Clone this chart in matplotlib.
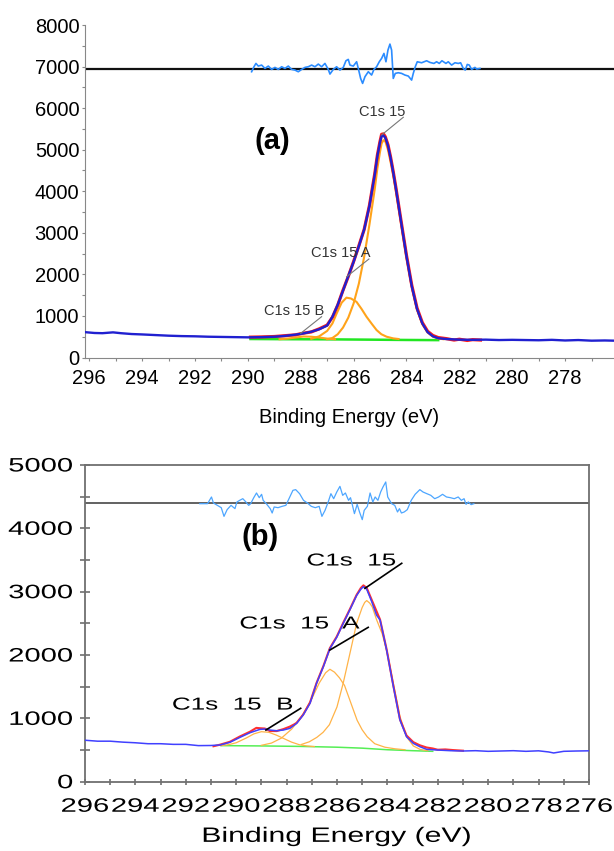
import numpy as np
import matplotlib
matplotlib.use("Agg")
import matplotlib.pyplot as plt
import matplotlib.patheffects as pe
from matplotlib.transforms import Affine2D
from matplotlib.ticker import MultipleLocator

plt.rcParams['font.family'] = ['Liberation Sans', 'DejaVu Sans']

# ---------------- panel (a) ----------------
be_a = [296.16, 295.8, 295.5, 295.1, 294.8, 294.4, 294.0, 293.5, 293.0, 292.5,
        292.0, 291.5, 291.0, 290.5, 290.0, 289.5, 289.0, 288.6, 288.2, 287.9,
        287.6, 287.3, 287.0, 286.8, 286.6, 286.4, 286.2, 286.0, 285.8, 285.6,
        285.4, 285.2, 285.1, 285.0, 284.94, 284.87, 284.8, 284.7, 284.6, 284.5,
        284.4, 284.2, 284.0, 283.8, 283.6, 283.4, 283.2, 283.0, 282.8, 282.5,
        282.0, 281.5, 281.0, 280.5, 280.0, 279.5, 279.0, 278.5, 278.0, 277.5,
        277.0, 276.5, 276.15]
env_a = [610, 590, 585, 605, 585, 565, 555, 540, 525, 515,
         510, 500, 495, 490, 485, 490, 500, 520, 550, 580,
         620, 680, 770, 980, 1270, 1610, 1960, 2300, 2680, 3080,
         3650, 4400, 4850, 5180, 5330, 5340, 5290, 5100, 4800, 4450,
         4070, 3250, 2440, 1720, 1170, 820, 610, 510, 465, 445,
         430, 425, 430, 420, 425, 420, 415, 425, 410, 420,
         405, 410, 405]

be_red_a = [289.9, 289.5, 289.0, 288.6, 288.2, 287.9, 287.6, 287.3, 287.0, 286.8,
            286.6, 286.4, 286.2, 286.0, 285.8, 285.6, 285.4, 285.2, 285.1, 285.0,
            284.94, 284.87, 284.8, 284.7, 284.6, 284.5, 284.4, 284.2, 284.0, 283.8,
            283.6, 283.4, 283.2, 283.0, 282.8, 282.5, 282.2, 282.0, 281.7, 281.5,
            281.2]
red_a = [490, 495, 505, 525, 545, 585, 615, 690, 780, 970,
         1260, 1620, 1950, 2310, 2690, 3080, 3660, 4420, 4870, 5200,
         5370, 5380, 5310, 5120, 4820, 4470, 4090, 3270, 2460, 1740,
         1190, 840, 630, 530, 480, 455, 420, 440, 410, 430,
         420]

be_main_a = [287.0, 286.8, 286.6, 286.4, 286.2, 286.0, 285.8, 285.6, 285.4, 285.2,
             285.1, 285.0, 284.94, 284.87, 284.8, 284.7, 284.6, 284.5, 284.4, 284.2,
             284.0, 283.8, 283.6, 283.4, 283.2, 283.0, 282.8, 282.6]
main_a = [440, 470, 560, 720, 960, 1300, 1780, 2420, 3200, 4050,
          4550, 4950, 5150, 5230, 5200, 5000, 4700, 4380, 4000, 3200,
          2400, 1700, 1150, 800, 600, 500, 455, 440]

be_A_a = [287.6, 287.3, 287.0, 286.8, 286.64, 286.45, 286.27, 286.1, 285.89, 285.7,
          285.51, 285.3, 285.13, 284.95, 284.75, 284.5, 284.3]
A_a = [450, 510, 640, 820, 1060, 1320, 1440, 1420, 1340, 1170,
       980, 800, 660, 560, 500, 460, 445]

be_B_a = [288.8, 288.5, 288.2, 287.9, 287.6, 287.3, 287.0, 286.7]
B_a = [440, 455, 480, 505, 500, 480, 455, 440]

be_bg_a = [289.9, 288.5, 287.0, 285.5, 284.0, 282.8]
bg_a = [445, 440, 437, 430, 422, 418]

resid_zero_a = 6940
res_be_a = [289.857, 289.768, 289.693, 289.604, 289.478, 289.352, 289.226, 289.100, 288.974, 288.848,
            288.722, 288.596, 288.470, 288.344, 288.218, 288.092, 287.965, 287.839, 287.713, 287.587,
            287.461, 287.335, 287.209, 287.083, 286.957, 286.894, 286.768, 286.642, 286.516, 286.390,
            286.289, 286.201, 286.138, 286.012, 285.885, 285.822, 285.734, 285.659, 285.570, 285.444,
            285.318, 285.230, 285.129, 285.028, 284.940, 284.852, 284.776, 284.700, 284.625, 284.562,
            284.499, 284.423, 284.310, 284.184, 284.057, 283.931, 283.805, 283.742, 283.667, 283.591,
            283.427, 283.238, 283.112, 282.961, 282.860, 282.759, 282.658, 282.507, 282.419, 282.292,
            282.166, 282.040, 281.952, 281.851, 281.776, 281.700, 281.624, 281.536, 281.410, 281.347,
            281.221]
res_a = [-64, 56, 136, 72, 96, 16, 72, -8, 40, -8,
         56, 16, 72, -8, -24, -64, -8, 40, 56, 96,
         56, 120, 56, 136, -8, -120, -8, 56, -24, 40,
         200, 233, 96, 72, 176, 16, -225, -345, -184, -64,
         -144, -8, 56, 176, 257, 377, 176, 457, 601, 457,
         -225, -104, -88, -104, -144, -168, -265, -104, 56, 176,
         152, 200, 160, 136, 176, 136, 200, 136, 176, 96,
         152, 136, 152, 16, -24, 112, 96, -8, 40, 0,
         16]

xticks_a = [296, 294, 292, 290, 288, 286, 284, 282, 280, 278]
yticks_a = [0, 1000, 2000, 3000, 4000, 5000, 6000, 7000, 8000]
labels_a = ['C1s 15', 'C1s 15 A', 'C1s 15 B']
label_pos_a = [(284.93, 5907), (286.48, 2526), (288.26, 1119)]
leaders_a = [(284.12, 5780, 284.94, 5354), (285.42, 2370, 286.26, 1944), (287.21, 982, 288.0, 582)]

# ---------------- panel (b) ----------------
be_b = [296.0, 295.5, 295.0, 294.5, 294.0, 293.5, 293.0, 292.5, 292.0, 291.5,
        291.0, 290.64, 290.25, 289.85, 289.45, 289.06, 288.86, 288.66, 288.39, 288.13,
        287.87, 287.6, 287.34, 287.07, 286.81, 286.54, 286.28, 286.01, 285.75, 285.48,
        285.22, 285.05, 284.95, 284.82, 284.62, 284.43, 284.29, 284.16, 284.03, 283.76,
        283.5, 283.24, 282.97, 282.71, 282.44, 282.0, 281.5, 281.0, 280.5, 280.0,
        279.5, 279.0, 278.5, 278.0, 277.6, 277.4, 277.0, 276.5, 276.0]
env_b = [655, 640, 640, 625, 615, 600, 600, 590, 590, 570,
         572, 580, 622, 700, 774, 826, 832, 816, 805, 816,
         842, 921, 1053, 1237, 1553, 1816, 2100, 2280, 2500, 2720,
         2940, 3040, 3079, 3040, 2842, 2630, 2553, 2320, 2079, 1500,
         974, 711, 605, 553, 511, 500, 490, 485, 490, 480,
         485, 490, 480, 488, 470, 454, 480, 485, 488]

be_red_b = [290.9, 290.64, 290.25, 289.85, 289.45, 289.2, 289.06, 288.86, 288.66, 288.39,
            288.13, 287.87, 287.7, 287.6, 287.34, 287.07, 286.81, 286.54, 286.28, 286.01,
            285.75, 285.48, 285.22, 285.05, 284.95, 284.82, 284.62, 284.45, 284.29, 284.03,
            283.76, 283.5, 283.24, 282.97, 282.71, 282.44, 282.2, 282.0, 281.7, 281.4,
            281.0]
red_b = [560, 585, 630, 715, 790, 850, 845, 840, 800, 800,
         830, 870, 905, 930, 1060, 1250, 1560, 1825, 2110, 2290,
         2510, 2730, 2950, 3060, 3100, 3060, 2870, 2710, 2560, 2090,
         1510, 985, 730, 625, 575, 540, 525, 505, 510, 500,
         490]

be_main_b = [287.4, 287.1, 286.8, 286.55, 286.3, 286.0, 285.75, 285.5, 285.22, 285.0,
             284.9, 284.82, 284.7, 284.6, 284.43, 284.2, 284.0, 283.76, 283.5, 283.24,
             282.97, 282.7, 282.4]
main_b = [590, 630, 700, 780, 900, 1180, 1560, 2000, 2500, 2750,
          2830, 2860, 2820, 2760, 2560, 2330, 2030, 1550, 1030, 710,
          565, 510, 490]

be_A_b = [289.0, 288.6, 288.2, 287.8, 287.4, 287.0, 286.7, 286.45, 286.28, 286.1,
          285.9, 285.7, 285.5, 285.2, 285.0, 284.8, 284.5, 284.1, 283.7, 283.3]
A_b = [575, 610, 690, 830, 1030, 1310, 1560, 1720, 1775, 1730,
       1640, 1520, 1300, 970, 820, 710, 600, 545, 520, 505]

be_B_b = [290.6, 290.3, 290.0, 289.6, 289.3, 289.0, 288.7, 288.4, 288.1, 287.8,
          287.5, 287.2, 286.9]
B_b = [570, 585, 615, 690, 755, 790, 780, 735, 680, 625,
       585, 565, 555]

be_bg_b = [290.6, 289.0, 287.5, 286.0, 285.0, 284.0, 283.0, 282.2]
bg_b = [570, 565, 558, 545, 530, 505, 490, 480]

resid_zero_b = 4400
res_be_b = [291.446, 291.136, 290.980, 290.902, 290.747, 290.592, 290.483, 290.359, 290.203, 290.048,
            289.970, 289.861, 289.737, 289.613, 289.504, 289.426, 289.302, 289.193, 289.084, 288.991,
            288.929, 288.804, 288.649, 288.571, 288.493, 288.338, 288.182, 288.027, 287.872, 287.747,
            287.638, 287.483, 287.328, 287.172, 287.017, 286.861, 286.706, 286.597, 286.473, 286.348,
            286.240, 286.131, 286.007, 285.882, 285.773, 285.665, 285.540, 285.463, 285.385, 285.307,
            285.198, 285.105, 284.996, 284.919, 284.794, 284.686, 284.577, 284.484, 284.375, 284.266,
            284.173, 284.064, 283.986, 283.908, 283.831, 283.706, 283.597, 283.520, 283.442, 283.333,
            283.209, 283.053, 282.898, 282.711, 282.587, 282.432, 282.276, 282.121, 281.966, 281.810,
            281.655, 281.499, 281.344, 281.189, 281.064, 280.955, 280.878, 280.785, 280.676, 280.567]
res_b = [-11, -11, 95, 0, -37, -74, -211, -105, -37, -89,
         16, 42, 68, 16, -37, -11, 84, 158, 84, 137,
         42, -11, -89, -158, -63, -74, -53, -37, 95, 200,
         211, 147, 42, 0, -53, -74, -53, -211, -116, 16,
         147, 68, 174, 263, 121, 158, 42, 84, -37, -168,
         -21, -142, -263, -116, -53, 158, 16, 95, 42, 174,
         253, 332, 95, 42, -11, -37, -142, -89, -158, -142,
         -105, 42, 137, 211, 174, 147, 121, 68, 95, 137,
         95, 84, 68, 95, 42, 68, -21, 16, -26, -11]

xticks_b = [296, 294, 292, 290, 288, 286, 284, 282, 280, 278, 276]
yticks_b = [0, 1000, 2000, 3000, 4000, 5000]
labels_b = ['C1s  15', 'C1s  15  A', 'C1s  15  B']
label_pos_b = [(285.42, 3484), (287.47, 2490), (290.13, 1210)]
leaders_b = [(283.43, 3448, 284.89, 3053), (284.76, 2437, 286.28, 2079), (287.44, 1159, 288.82, 816)]


class Stretch(pe.AbstractPathEffect):
    """widen text sideways - the lower panel was pasted in stretched"""
    def __init__(self, sx, anchor="center"):
        super().__init__()
        self.sx = sx
        self.anchor = anchor

    def draw_path(self, renderer, gc, tpath, affine, rgbFace=None):
        ext = tpath.get_extents(affine)
        x0 = ext.x1 if self.anchor == "right" else (ext.x0 + ext.x1) / 2
        aff = affine + Affine2D().translate(-x0, 0).scale(self.sx, 1).translate(x0, 0)
        renderer.draw_path(gc, tpath, aff, rgbFace)


fig = plt.figure(figsize=(6.14, 8.51), dpi=100)

# ---- (a)
ax1 = fig.add_axes([0.1384, 0.5799, 0.8616, 0.3907])
ax1.plot(be_bg_a, bg_a, color='#22e622', lw=1.8, zorder=1)
ax1.plot(be_main_a, main_a, color='#ffa31a', lw=1.5, zorder=2)
ax1.plot(be_A_a, A_a, color='#ffa31a', lw=1.5, zorder=2)
ax1.plot(be_B_a, B_a, color='#ffa31a', lw=1.5, zorder=2)
ax1.plot(be_red_a, red_a, color='#ff1a1a', lw=2.3, zorder=2.5)
ax1.plot(be_a, env_a, color='#2020d0', lw=1.7, zorder=3)
ax1.axhline(resid_zero_a, color='#111111', lw=1.6, zorder=2)
ax1.plot(res_be_a, np.array(res_a) + resid_zero_a, color='#2b8cff', lw=1.2, zorder=3)

for lab, (x, y) in zip(labels_a, label_pos_a):
    ax1.text(x, y, lab, fontsize=10.5, color='#333333', ha='center', va='center')
for x0, y0, x1, y1 in leaders_a:
    ax1.plot([x0, x1], [y0, y1], color='#777777', lw=0.8, zorder=4)
ax1.text(289.09, 5209, '(a)', fontsize=21, fontweight='bold', ha='center', va='center')

ax1.set_xlim(296.16, 276.15)
ax1.set_ylim(0, 8000)
ax1.set_xticks(xticks_a)
ax1.set_yticks(yticks_a)
ax1.xaxis.set_minor_locator(MultipleLocator(1))
ax1.yaxis.set_minor_locator(MultipleLocator(500))
for s in ['top', 'right']:
    ax1.spines[s].set_visible(False)
for s in ['left', 'bottom']:
    ax1.spines[s].set_color('#888888')
ax1.tick_params(which='both', direction='out', length=2.5, width=0.8, color='#888888')
ax1.tick_params(axis='x', labelsize=14.5, pad=5.5)
ax1.tick_params(axis='y', labelsize=14.5, pad=1.6)
ax1.set_xlabel('Binding Energy (eV)', fontsize=14.5, labelpad=15)

# ---- (b)
ax2 = fig.add_axes([0.1384, 0.0814, 0.8208, 0.3722])
ax2.plot(be_bg_b, bg_b, color='#55ee55', lw=1.1, zorder=1)
ax2.plot(be_main_b, main_b, color='#ffb347', lw=0.9, zorder=2)
ax2.plot(be_A_b, A_b, color='#ffb347', lw=0.9, zorder=2)
ax2.plot(be_B_b, B_b, color='#ffb347', lw=0.9, zorder=2)
ax2.plot(be_red_b, red_b, color='#ff3030', lw=1.5, zorder=2.5)
ax2.plot(be_b, env_b, color='#4040ff', lw=1.1, zorder=3)
ax2.axhline(resid_zero_b, color='#555555', lw=1.3, zorder=2)
ax2.plot(res_be_b, np.array(res_b) + resid_zero_b, color='#4da6ff', lw=0.9, zorder=3)

for lab, (x, y) in zip(labels_b, label_pos_b):
    ax2.text(x, y, lab, fontsize=12.5, color='black', ha='center', va='center',
             path_effects=[Stretch(1.5)])
for x0, y0, x1, y1 in leaders_b:
    ax2.plot([x0, x1], [y0, y1], color='black', lw=1.2, zorder=4)
ax2.text(289.06, 3863, '(b)', fontsize=21, fontweight='bold', ha='center', va='center')

ax2.set_xlim(296, 276)
ax2.set_ylim(0, 5000)
ax2.set_xticks(xticks_b)
ax2.set_yticks(yticks_b)
ax2.xaxis.set_minor_locator(MultipleLocator(1))
ax2.yaxis.set_minor_locator(MultipleLocator(500))
for s in ax2.spines.values():
    s.set_color('#707070')
    s.set_linewidth(1.3)
ax2.tick_params(which='both', direction='inout', width=1.2, color='#707070')
ax2.tick_params(axis='x', which='both', length=4.5, labelsize=14, pad=10)
ax2.tick_params(axis='y', which='both', length=7.5, labelsize=14, pad=4.9)
ax2.set_xlabel('Binding Energy (eV)', fontsize=15, labelpad=8)

for t in ax2.get_yticklabels():
    t.set_path_effects([Stretch(1.5, 'right')])
for t in ax2.get_xticklabels():
    t.set_path_effects([Stretch(1.5)])
ax2.xaxis.label.set_path_effects([Stretch(1.45)])

fig.savefig('out.png', dpi=100)
